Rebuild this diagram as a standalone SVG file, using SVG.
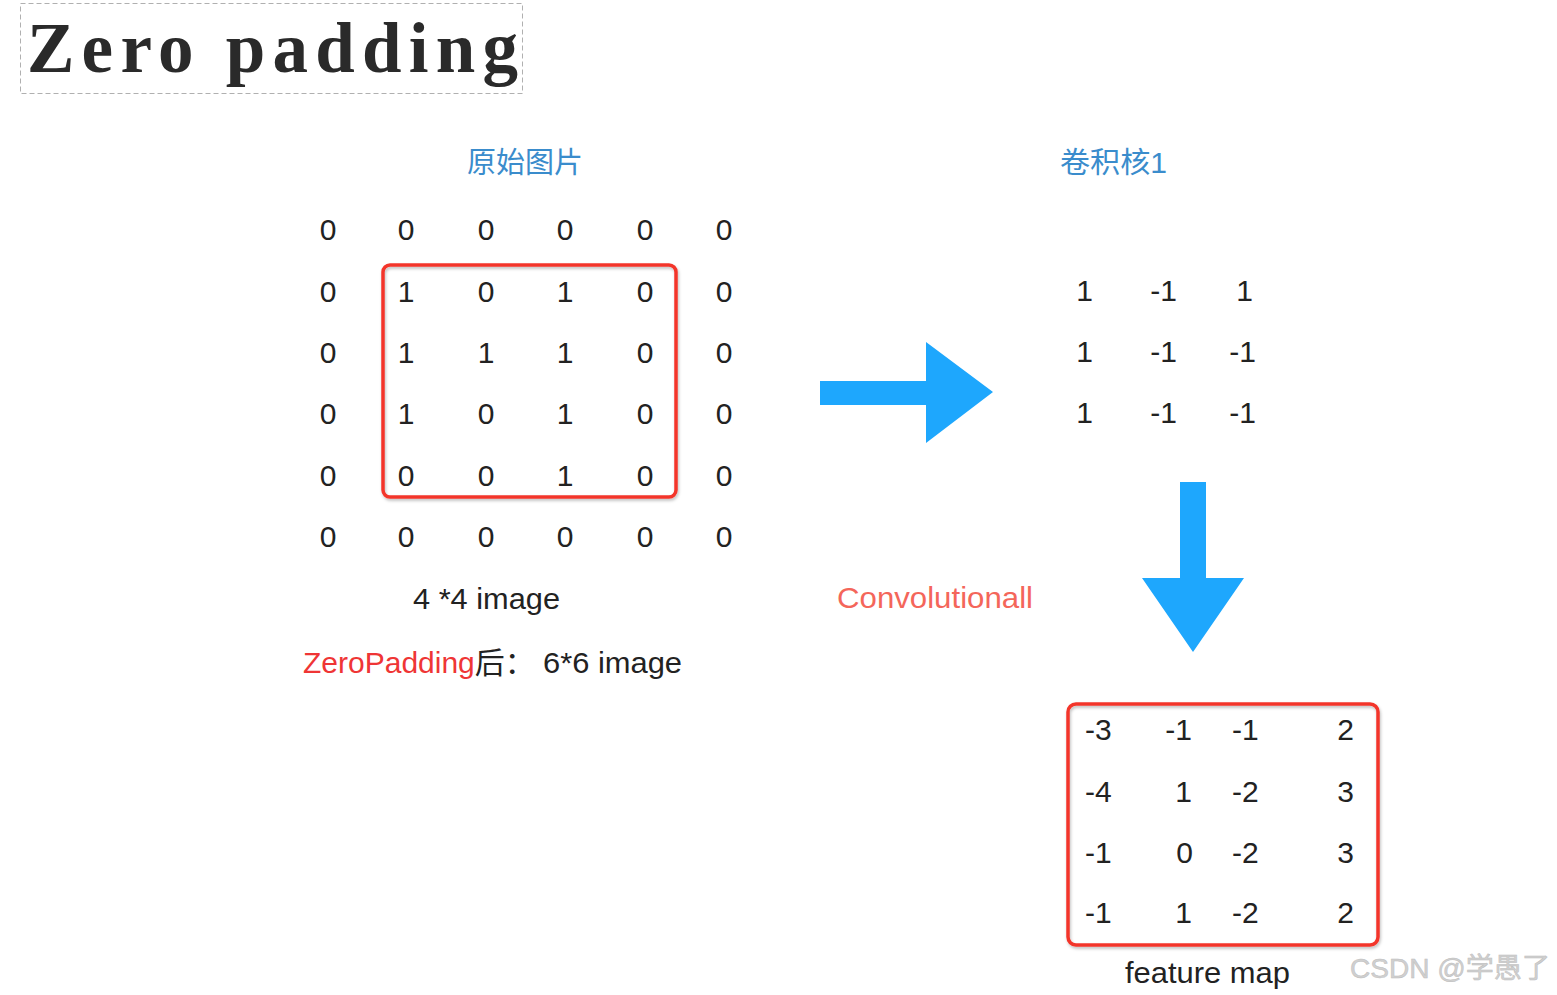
<svg xmlns="http://www.w3.org/2000/svg" width="1557" height="995" viewBox="0 0 1557 995">
<style>
.num{font-family:"Liberation Sans",Arial,sans-serif;font-size:30px;fill:#222}
.mid{text-anchor:middle}
.end{text-anchor:end}
.cap{font-family:"Liberation Sans","Noto Sans CJK SC",sans-serif;font-size:29px;fill:#3a8ccc}
.box{fill:none;stroke:#f3352b;stroke-width:3.5;filter:url(#sh)}
.arrow{fill:#1ea7fd}
</style>
<defs>
<filter id="sh" x="-5%" y="-5%" width="110%" height="110%">
<feDropShadow dx="1" dy="2" stdDeviation="1.5" flood-color="#000" flood-opacity="0.25"/>
</filter>
</defs>
<rect width="1557" height="995" fill="#fff"/>
<g id="title">
<rect x="20.5" y="3.5" width="502" height="90" fill="none" stroke="#b0b0b0" stroke-width="1" stroke-dasharray="5 3"/>
<text x="27" y="72" font-family="'Liberation Serif','Times New Roman',serif" font-weight="bold" font-size="71" fill="#2a2a2a" textLength="491" lengthAdjust="spacing">Zero padding</text>
</g>
<g id="original">
<text class="cap mid" x="525" y="173">原始图片</text>
<rect class="box" x="383" y="265" width="293" height="232" rx="7"/>
<g class="num mid">
<text x="328" y="240">0</text><text x="406" y="240">0</text><text x="486" y="240">0</text><text x="565" y="240">0</text><text x="645" y="240">0</text><text x="724" y="240">0</text>
<text x="328" y="302">0</text><text x="406" y="302">1</text><text x="486" y="302">0</text><text x="565" y="302">1</text><text x="645" y="302">0</text><text x="724" y="302">0</text>
<text x="328" y="363">0</text><text x="406" y="363">1</text><text x="486" y="363">1</text><text x="565" y="363">1</text><text x="645" y="363">0</text><text x="724" y="363">0</text>
<text x="328" y="424">0</text><text x="406" y="424">1</text><text x="486" y="424">0</text><text x="565" y="424">1</text><text x="645" y="424">0</text><text x="724" y="424">0</text>
<text x="328" y="486">0</text><text x="406" y="486">0</text><text x="486" y="486">0</text><text x="565" y="486">1</text><text x="645" y="486">0</text><text x="724" y="486">0</text>
<text x="328" y="547">0</text><text x="406" y="547">0</text><text x="486" y="547">0</text><text x="565" y="547">0</text><text x="645" y="547">0</text><text x="724" y="547">0</text>
</g>
<text class="num" x="413" y="609" textLength="147" lengthAdjust="spacingAndGlyphs">4 *4 image</text>
<text x="303" y="673" font-family="'Liberation Sans','Noto Sans CJK SC',sans-serif" font-size="30" fill="#222"><tspan fill="#ef3535">ZeroPadding</tspan>后：<tspan x="543" textLength="139" lengthAdjust="spacingAndGlyphs">6*6 image</tspan></text>
</g>
<g id="kernel">
<text class="cap" x="1060" y="173" textLength="107" lengthAdjust="spacingAndGlyphs">卷积核1</text>
<g class="num end">
<text x="1093" y="301">1</text><text x="1177" y="301">-1</text><text x="1253" y="301">1</text>
<text x="1093" y="362">1</text><text x="1177" y="362">-1</text><text x="1256" y="362">-1</text>
<text x="1093" y="423">1</text><text x="1177" y="423">-1</text><text x="1256" y="423">-1</text>
</g>
</g>
<g id="connectors">
<polygon class="arrow" points="820,381 926,381 926,342 993,392 926,443 926,405 820,405"/>
<polygon class="arrow" points="1180,482 1206,482 1206,578 1244,578 1193,652 1142,578 1180,578"/>
</g>
<g id="conv-label">
<text x="837" y="608" font-family="'Liberation Sans',Arial,sans-serif" font-size="30" fill="#f4665a" textLength="196" lengthAdjust="spacingAndGlyphs">Convolutionall</text>
</g>
<g id="feature-map">
<rect class="box" x="1068" y="704" width="310" height="241" rx="8"/>
<g class="num">
<text x="1085" y="740">-3</text><text class="end" x="1192" y="740">-1</text><text x="1232" y="740">-1</text><text class="end" x="1354" y="740">2</text>
<text x="1085" y="802">-4</text><text class="end" x="1192" y="802">1</text><text x="1232" y="802">-2</text><text class="end" x="1354" y="802">3</text>
<text x="1085" y="863">-1</text><text class="end" x="1193" y="863">0</text><text x="1232" y="863">-2</text><text class="end" x="1354" y="863">3</text>
<text x="1085" y="923">-1</text><text class="end" x="1192" y="923">1</text><text x="1232" y="923">-2</text><text class="end" x="1354" y="923">2</text>
</g>
<text class="num" x="1125" y="983" textLength="165" lengthAdjust="spacingAndGlyphs">feature map</text>
</g>
<g id="watermark">
<text x="1350" y="978" font-family="'Liberation Sans','Noto Sans CJK SC',sans-serif" font-size="28" fill="#d0d0d0" stroke="#bdbdbd" stroke-width="0.5" textLength="200" lengthAdjust="spacingAndGlyphs">CSDN @学愚了</text>
</g>
</svg>
